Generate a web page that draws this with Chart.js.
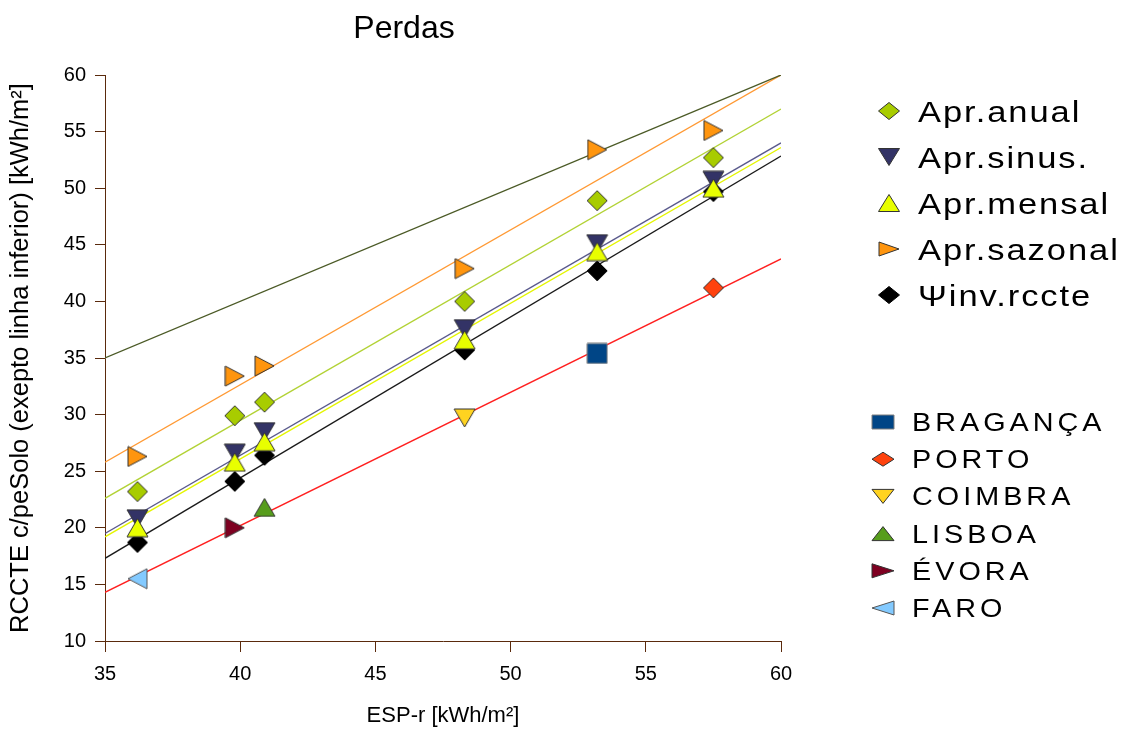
<!DOCTYPE html>
<html><head><meta charset="utf-8">
<script src="https://cdn.jsdelivr.net/npm/chart.js@4/dist/chart.umd.min.js"></script>
<style>html,body{margin:0;padding:0;background:#fff;}canvas{display:block;}</style>
</head><body>
<canvas id="c" width="1129" height="730"></canvas>
<script>
// ---- data ----
const chartTitle = 'Perdas';
const xAxisTitle = 'ESP-r [kWh/m²]';
const yAxisTitle = 'RCCTE c/peSolo (exepto linha inferior) [kWh/m²]';

const xPoints    = [36.2, 39.8, 40.9, 48.3, 53.2, 57.5];
const aprAnual   = [23.2, 29.9, 31.1, 40.0, 48.9, 52.7];
const aprSinus   = [20.8, 26.6, 28.5, 37.6, 45.1, 50.7];
const aprMensal  = [20.0, 25.8, 27.6, 36.6, 44.4, 50.0];
const aprSazonal = [26.3, 33.4, 34.3, 42.9, 53.4, 55.1];
const psiInv     = [18.7, 24.1, 26.4, 35.7, 42.7, 49.7];
const seriesNames = ['Apr.anual', 'Apr.sinus.', 'Apr.mensal', 'Apr.sazonal', 'Ψinv.rccte'];

const cityNames = ['BRAGANÇA', 'PORTO', 'COIMBRA', 'LISBOA', 'ÉVORA', 'FARO'];
const cityX     = [53.2, 57.5, 48.3, 40.9, 39.8, 36.2];
const cityY     = [35.4, 41.2, 29.7, 21.8, 20.0, 15.5];

const trendX        = [35, 60];
const trendIdentity = [35, 60];
const trendSazonal  = [25.8, 60.0];
const trendAnual    = [22.6, 57.0];
const trendSinus    = [19.5, 54.0];
const trendMensal   = [19.2, 53.6];
const trendInv      = [17.3, 52.85];
const trendRccte    = [14.3, 43.75];

const xTickValues = [35, 40, 45, 50, 55, 60];
const yTickValues = [10, 15, 20, 25, 30, 35, 40, 45, 50, 55, 60];

// ---- styling helpers ----
const FONT = '"Liberation Sans", Arial, sans-serif';
const AXIS = '#5a2a0c';

function markerPath(ctx, shape, cx, cy, w, h) {
  const hw = w / 2, hh = h / 2;
  ctx.beginPath();
  switch (shape) {
    case 'square': ctx.rect(cx - hw, cy - hh, w, h); break;
    case 'diamond':
      ctx.moveTo(cx - hw, cy); ctx.lineTo(cx, cy - hh); ctx.lineTo(cx + hw, cy); ctx.lineTo(cx, cy + hh); break;
    case 'up':
      ctx.moveTo(cx, cy - hh); ctx.lineTo(cx + hw, cy + hh); ctx.lineTo(cx - hw, cy + hh); break;
    case 'down':
      ctx.moveTo(cx - hw, cy - hh); ctx.lineTo(cx + hw, cy - hh); ctx.lineTo(cx, cy + hh); break;
    case 'right':
      ctx.moveTo(cx - hw, cy - hh); ctx.lineTo(cx + hw, cy); ctx.lineTo(cx - hw, cy + hh); break;
    case 'left':
      ctx.moveTo(cx + hw, cy - hh); ctx.lineTo(cx - hw, cy); ctx.lineTo(cx + hw, cy + hh); break;
  }
  ctx.closePath();
}
function drawMarker(ctx, shape, cx, cy, w, h, fill, stroke) {
  markerPath(ctx, shape, cx, cy, w, h);
  ctx.fillStyle = fill; ctx.fill();
  ctx.lineWidth = 1; ctx.strokeStyle = stroke; ctx.stroke();
}
const SIZES = { square: [20, 20], diamond: [20, 20], up: [21, 18], down: [21, 18], right: [19, 20], left: [19, 20] };
function markerCanvas(shape, fill, stroke) {
  const [w, h] = SIZES[shape];
  const c = document.createElement('canvas');
  c.width = w + 2; c.height = h + 2;
  drawMarker(c.getContext('2d'), shape, (w + 2) / 2, (h + 2) / 2, w, h, fill, stroke);
  return c;
}

function pts(xs, ys) { return xs.map((x, i) => ({ x: x, y: ys[i] })); }

// z = stacking (lower drawn first / underneath)
const seriesDefs = [
  { data: aprAnual,   shape: 'diamond', fill: '#a8cc00', stroke: '#333333', z: 0 },
  { data: aprSinus,   shape: 'down',    fill: '#333366', stroke: '#333333', z: 3 },
  { data: aprMensal,  shape: 'up',      fill: '#e8ff00', stroke: '#333333', z: 4 },
  { data: aprSazonal, shape: 'right',   fill: '#ff950e', stroke: '#333333', z: 1 },
  { data: psiInv,     shape: 'diamond', fill: '#000000', stroke: '#000000', z: 2 }
];
const cityDefs = [
  { shape: 'square',  fill: '#004586', stroke: '#7f7f7f' },
  { shape: 'diamond', fill: '#ff420e', stroke: '#333333' },
  { shape: 'down',    fill: '#ffd320', stroke: '#333333' },
  { shape: 'up',      fill: '#579d1c', stroke: '#333333' },
  { shape: 'right',   fill: '#7e0021', stroke: '#333333' },
  { shape: 'left',    fill: '#83caff', stroke: '#555555' }
];
const trendDefs = [
  { y: trendIdentity, color: '#4b5a26' },
  { y: trendSazonal,  color: '#ff9933' },
  { y: trendAnual,    color: '#b2d235' },
  { y: trendSinus,    color: '#5a5a8c' },
  { y: trendMensal,   color: '#e4f500' },
  { y: trendInv,      color: '#1a1a1a' },
  { y: trendRccte,    color: '#ff2020' }
];

const datasets = [];
seriesDefs.forEach((d, i) => {
  datasets.push({
    label: seriesNames[i], data: pts(xPoints, d.data),
    pointStyle: markerCanvas(d.shape, d.fill, d.stroke), showLine: false,
    order: 50 - d.z, legendGroup: 1, legendShape: d.shape, legendFill: d.fill, legendStroke: d.stroke
  });
});
cityDefs.forEach((d, i) => {
  datasets.push({
    label: cityNames[i], data: [{ x: cityX[i], y: cityY[i] }],
    pointStyle: markerCanvas(d.shape, d.fill, d.stroke), showLine: false,
    order: 40 - i, legendGroup: 2, legendShape: d.shape, legendFill: d.fill, legendStroke: d.stroke
  });
});
trendDefs.forEach((d, i) => {
  datasets.push({
    label: 'trend' + i, data: pts(trendX, d.y), showLine: true,
    borderColor: d.color, borderWidth: 1.3, pointRadius: 0, order: 100 + i, fill: false
  });
});

function stretchedText(ctx, text, x, y, sx) {
  ctx.save();
  ctx.translate(x, y);
  ctx.scale(sx, 1);
  ctx.fillText(text, 0, 0);
  ctx.restore();
}

const overlay = {
  id: 'overlay',
  afterDraw(chart) {
    const ctx = chart.ctx;
    ctx.save();
    // title
    ctx.fillStyle = '#000';
    ctx.font = '32px ' + FONT;
    ctx.textAlign = 'center';
    ctx.textBaseline = 'alphabetic';
    ctx.fillText(chartTitle, 404, 38);
    // legend
    ctx.textAlign = 'left';
    const g1 = chart.data.datasets.filter(d => d.legendGroup === 1);
    const g2 = chart.data.datasets.filter(d => d.legendGroup === 2);
    g1.forEach((d, i) => {
      const cy = 111 + i * 46;
      const [w, h] = d.legendShape === 'right' ? [20, 14] : [21, 17];
      drawMarker(ctx, d.legendShape, 889, cy, w, h, d.legendFill, d.legendStroke);
      ctx.fillStyle = '#000';
      ctx.font = '30px ' + FONT;
      ctx.letterSpacing = '1.7px';
      stretchedText(ctx, d.label, 918, cy + 11, 1.15);
    });
    g2.forEach((d, i) => {
      const cy = 422 + i * 37.2;
      drawMarker(ctx, d.legendShape, 883, cy, 22, 14, d.legendFill, d.legendStroke);
      ctx.fillStyle = '#000';
      ctx.font = '25px ' + FONT;
      ctx.letterSpacing = '3.5px';
      stretchedText(ctx, d.label, 912, cy + 9, 1.15);
    });
    ctx.restore();
  }
};

new Chart(document.getElementById('c'), {
  type: 'scatter',
  data: { datasets },
  options: {
    responsive: false, animation: false, events: [],
    layout: { padding: { top: 75, right: 348, bottom: 0, left: 0 } },
    plugins: { legend: { display: false }, tooltip: { enabled: false }, title: { display: false } },
    scales: {
      x: {
        type: 'linear', min: 35, max: 60,
        afterBuildTicks: s => { s.ticks = xTickValues.map(v => ({ value: v })); },
        afterFit: s => { s.height = 89; },
        ticks: { color: '#000', font: { family: FONT, size: 20 }, padding: 10, maxRotation: 0 },
        grid: { drawOnChartArea: false, drawTicks: true, tickLength: 11, color: AXIS, lineWidth: 1 },
        border: { display: true, color: AXIS, width: 1 },
        title: { display: true, text: xAxisTitle, color: '#000', font: { family: FONT, size: 22 }, padding: { top: 0, bottom: 1 } }
      },
      y: {
        type: 'linear', min: 10, max: 60,
        afterBuildTicks: s => { s.ticks = yTickValues.map(v => ({ value: v })); },
        afterFit: s => { s.width = 105; },
        ticks: { color: '#000', font: { family: FONT, size: 20 }, padding: 9 },
        grid: { drawOnChartArea: false, drawTicks: true, tickLength: 10, color: AXIS, lineWidth: 1 },
        border: { display: true, color: AXIS, width: 1 },
        title: { display: true, text: yAxisTitle, color: '#000', font: { family: FONT, size: 25.5 }, padding: { top: 6, bottom: 0 } }
      }
    }
  },
  plugins: [overlay]
});
</script>
</body></html>
